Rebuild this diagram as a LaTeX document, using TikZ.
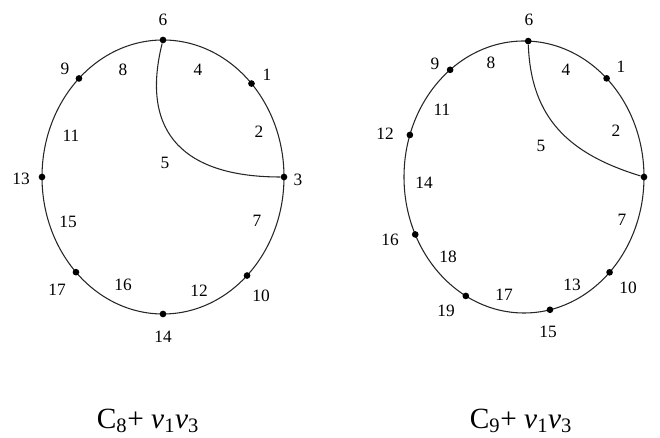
\documentclass[tikz,border=0pt]{standalone}
\usepackage{fontspec}
\setmainfont{Liberation Serif}
\begin{document}
\begin{tikzpicture}[
  x=0.75pt, y=0.75pt,
  vtx/.style={circle, fill=black, inner sep=0pt, minimum size=5pt},
  lbl/.style={inner sep=0pt, font=\fontsize{13}{15}\selectfont},
  captxt/.style={inner sep=0pt, font=\fontsize{22}{25}\selectfont},
  cyc/.style={draw=black!85, line width=0.8pt}
]
\useasboundingbox (0,0) rectangle (660,438);

% C_8 + v1v3
\coordinate (cl) at (163,261);
\draw[cyc] (cl) ellipse [x radius=121, y radius=137];
\node[vtx] (a6) at ([shift={(90:121 and 137)}]cl) {};
\node[vtx] (a1) at ([shift={(43:121 and 137)}]cl) {};
\node[vtx] (a3) at ([shift={(0:121 and 137)}]cl) {};
\node[vtx] (a10) at ([shift={(-46:121 and 137)}]cl) {};
\node[vtx] (a14) at ([shift={(-90:121 and 137)}]cl) {};
\node[vtx] (a17) at ([shift={(-136:121 and 137)}]cl) {};
\node[vtx] (a13) at ([shift={(180:121 and 137)}]cl) {};
\node[vtx] (a9) at ([shift={(134:121 and 137)}]cl) {};
\draw[cyc] (a6) to[out=-104, in=180, looseness=1.35] (a3);

\node[lbl] (la6) at (163,418) {6};
\node[lbl] (la9) at (65,369) {9};
\node[lbl] (la1) at (267,363) {1};
\node[lbl] (la13) at (21,259) {13};
\node[lbl] (la3) at (298,258) {3};
\node[lbl] (la17) at (57,148) {17};
\node[lbl] (la14) at (163,101) {14};
\node[lbl] (la10) at (261,142) {10};
\node[lbl] (le8) at (123,368) {8};
\node[lbl] (le4) at (198,368) {4};
\node[lbl] (le2) at (259,306) {2};
\node[lbl] (le11) at (71,302) {11};
\node[lbl] (le5) at (165,275) {5};
\node[lbl] (le15) at (68,216) {15};
\node[lbl] (le7) at (257,217) {7};
\node[lbl] (le16) at (123,153) {16};
\node[lbl] (le12) at (199,147) {12};

% C_9 + v1v3
\coordinate (cr) at (524,261);
\draw[cyc] (cr) ellipse [x radius=120, y radius=136];
\node[vtx] (b6) at ([shift={(88:120 and 136)}]cr) {};
\node[vtx] (b1) at ([shift={(46.5:120 and 136)}]cr) {};
\node[vtx] (b3) at ([shift={(0:120 and 136)}]cr) {};
\node[vtx] (b10) at ([shift={(-44.5:120 and 136)}]cr) {};
\node[vtx] (b15) at ([shift={(-77.5:120 and 136)}]cr) {};
\node[vtx] (b19) at ([shift={(-119:120 and 136)}]cr) {};
\node[vtx] (b16) at ([shift={(-155:120 and 136)}]cr) {};
\node[vtx] (b12) at ([shift={(162:120 and 136)}]cr) {};
\node[vtx] (b9) at ([shift={(128:120 and 136)}]cr) {};
\draw[cyc] (b6) to[out=-88, in=163, looseness=1.1] (b3);

\node[lbl] (lb6) at (529,418) {6};
\node[lbl] (lb9) at (435,374) {9};
\node[lbl] (lb1) at (621,371) {1};
\node[lbl] (lb12) at (385,304) {12};
\node[lbl] (lb3) at (664,258) {3};
\node[lbl] (lb16) at (390,198) {16};
\node[lbl] (lb19) at (446,127) {19};
\node[lbl] (lb15) at (548,106) {15};
\node[lbl] (lb10) at (628,150) {10};
\node[lbl] (le8b) at (491,375) {8};
\node[lbl] (le4b) at (566,368) {4};
\node[lbl] (le11b) at (442,328) {11};
\node[lbl] (le2b) at (616,307) {2};
\node[lbl] (le5b) at (541,292) {5};
\node[lbl] (le14b) at (424,255) {14};
\node[lbl] (le7b) at (622,218) {7};
\node[lbl] (le18b) at (448,181) {18};
\node[lbl] (le13b) at (572,153) {13};
\node[lbl] (le17b) at (504,143) {17};

% captions
\node[captxt] (capl) at (148,17) {C\textsubscript{8}+ \textit{v}\textsubscript{1}\textit{v}\textsubscript{3}};
\node[captxt] (capr) at (521,17) {C\textsubscript{9}+ \textit{v}\textsubscript{1}\textit{v}\textsubscript{3}};
\end{tikzpicture}
\end{document}
